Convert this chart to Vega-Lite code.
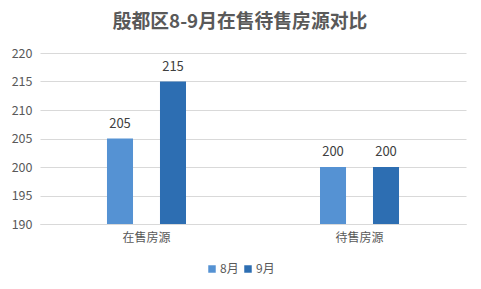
{
  "$schema": "https://vega.github.io/schema/vega-lite/v6.json",
  "width": 426,
  "height": 171,
  "autosize": {"type": "none"},
  "padding": {"left": 40, "top": 53, "right": 15, "bottom": 65},
  "background": "#ffffff",
  "title": {
    "text": "殷都区8-9月在售待售房源对比",
    "font": "Noto Sans CJK SC",
    "fontSize": 18.8,
    "fontWeight": "bold",
    "color": "#595959",
    "anchor": "middle",
    "dx": -13,
    "offset": 15
  },
  "data": {
    "values": [
      {"类别": "在售房源", "月份": "8月", "套数": 205},
      {"类别": "在售房源", "月份": "9月", "套数": 215},
      {"类别": "待售房源", "月份": "8月", "套数": 200},
      {"类别": "待售房源", "月份": "9月", "套数": 200}
    ]
  },
  "encoding": {
    "x": {
      "field": "类别",
      "type": "nominal",
      "sort": ["在售房源", "待售房源"],
      "scale": {"paddingInner": 0.1315, "paddingOuter": 0.0657},
      "axis": {
        "title": null,
        "labelAngle": 0,
        "labelFont": "Noto Sans CJK SC",
        "labelFontSize": 12,
        "labelColor": "#595959",
        "labelPadding": 8,
        "ticks": false,
        "domainColor": "#d9d9d9",
        "grid": false
      }
    },
    "xOffset": {
      "field": "月份",
      "type": "nominal",
      "sort": ["8月", "9月"],
      "scale": {"paddingInner": 0.509, "paddingOuter": 1}
    },
    "y": {
      "field": "套数",
      "type": "quantitative",
      "scale": {"domain": [190, 220], "zero": false, "nice": false},
      "axis": {
        "title": null,
        "values": [190, 195, 200, 205, 210, 215, 220],
        "labelOverlap": false,
        "labelFont": "Noto Sans CJK SC",
        "labelFontSize": 12.5,
        "labelColor": "#595959",
        "labelPadding": 8,
        "ticks": false,
        "domain": false,
        "gridColor": "#d9d9d9",
        "gridWidth": 1
      }
    }
  },
  "layer": [
    {
      "mark": {"type": "bar"},
      "encoding": {
        "y2": {"datum": 190},
        "color": {
          "field": "月份",
          "type": "nominal",
          "sort": ["8月", "9月"],
          "scale": {"domain": ["8月", "9月"], "range": ["#5592d3", "#2d6eb2"]},
          "legend": {
            "title": null,
            "orient": "none",
            "direction": "horizontal",
            "legendX": 166,
            "legendY": 210,
            "symbolType": "square",
            "symbolSize": 56,
            "symbolStrokeWidth": 0,
            "labelFont": "Noto Sans CJK SC",
            "labelFontSize": 12,
            "labelColor": "#595959",
            "labelOffset": 2,
            "columnPadding": 3
          }
        }
      }
    },
    {
      "mark": {
        "type": "text",
        "baseline": "bottom",
        "dy": -8,
        "font": "Noto Sans CJK SC",
        "fontSize": 13,
        "color": "#404040"
      },
      "encoding": {
        "text": {"field": "套数", "type": "quantitative"}
      }
    }
  ],
  "config": {
    "view": {"stroke": null}
  }
}
